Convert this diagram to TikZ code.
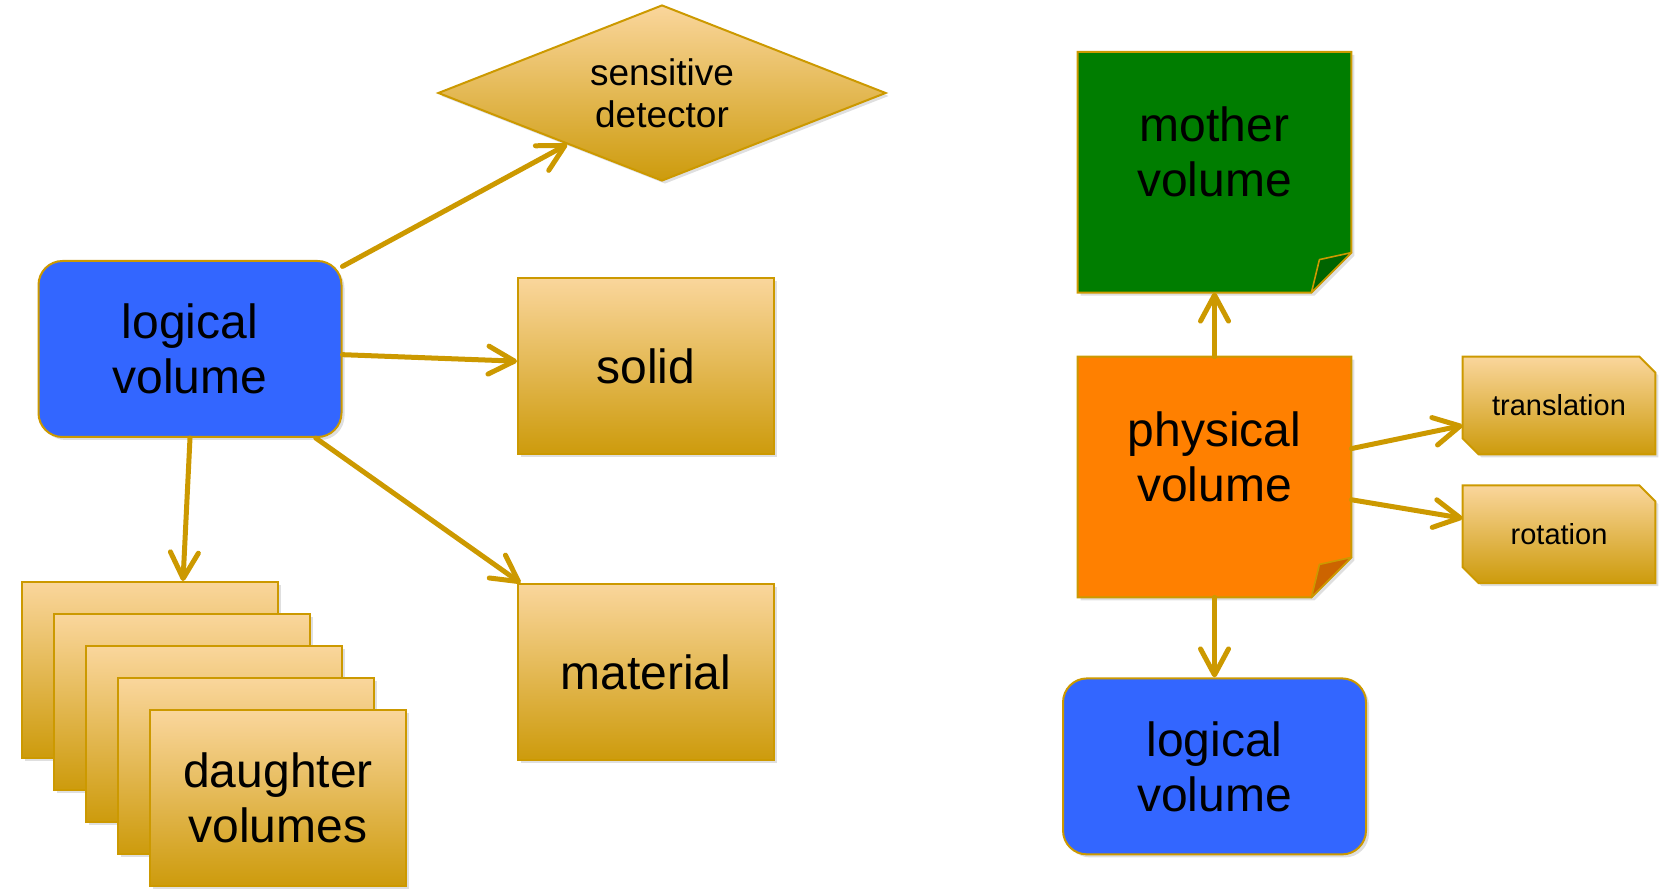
\documentclass[tikz,border=0pt]{standalone}
\usepackage{fontspec}
\setmainfont{Liberation Sans}
\usetikzlibrary{positioning,arrows.meta,shapes.geometric,shadows,calc,backgrounds}
\definecolor{GeoGold}{RGB}{204,153,0}
\definecolor{GeoGoldLight}{RGB}{250,214,156}
\definecolor{GeoGoldDark}{RGB}{205,155,12}
\definecolor{GeoBlue}{RGB}{51,102,255}
\definecolor{GeoGreen}{RGB}{0,125,0}
\definecolor{GeoGreenFold}{RGB}{0,100,0}
\definecolor{GeoOrange}{RGB}{255,128,0}
\definecolor{GeoOrangeFold}{RGB}{204,100,0}

\begin{document}
\begin{tikzpicture}[x=0.5pt,y=-0.5pt,
shadowed/.style={drop shadow={opacity=0.25,shadow xshift=1.5pt,shadow yshift=-1.5pt}},
gold/.style={draw=GeoGold,line width=1pt,top color=GeoGoldLight,bottom color=GeoGoldDark,shadowed},
bigtxt/.style={font=\fontsize{24}{27.5}\selectfont,align=center},
box/.style={rectangle,gold,bigtxt,minimum width=128pt,minimum height=88pt,inner sep=0pt},
lvbox/.style={rectangle,rounded corners=12pt,draw=GeoGold,line width=1pt,fill=GeoBlue,shadowed,bigtxt,
minimum width=151.5pt,minimum height=88pt},
sensor/.style={diamond,aspect=2.5,gold,font=\fontsize{18.5}{21}\selectfont,align=center,
minimum width=224pt,minimum height=88pt,inner sep=0pt},
note/.style={rectangle,minimum width=136.5pt,minimum height=120pt,inner sep=0pt},
tag/.style={rectangle,font=\fontsize{14.5}{17}\selectfont,minimum width=96pt,minimum height=48.5pt,inner sep=0pt},
noteshape/.style={draw=GeoGold,line width=1pt,shadowed},
fold/.style={draw=GeoGold,line width=0.8pt,line join=round},
arrow/.style={-{Straight Barb[length=13pt,width=14pt,round]},line width=2.5pt,draw=GeoGold,line cap=round}
]
\useasboundingbox (0,0) rectangle (1668,892);

% logical volume and what it holds
\node[lvbox] (lv) at (190,349) {logical\\volume};
\node[sensor] (sd) at (662,93) {sensitive\\detector};
\node[box] (solid) at (646,366) {solid};
\node[box,below=64pt of solid] (mat) {material};
\foreach \i in {0,...,3}
  \node[box] (d\i) at (150+32*\i,670+32*\i) {};
\node[box] (d4) at (278,798) {daughter\\volumes};

% physical volume
\node[note,label={[bigtxt,yshift=10pt]center:{physical\\volume}}] (pv) at (1214.5,477) {};
\node[note,above=32pt of pv,label={[bigtxt,yshift=10pt]center:{mother\\volume}}] (mv) {};
\node[lvbox,below=40pt of pv] (lv2) {logical\\volume};
\node[tag] (trans) at (1559,405.5) {translation};
\node[tag,below=15.5pt of trans] (rot) {rotation};

\begin{scope}[on background layer]
\foreach \n/\c in {mv/GeoGreen,pv/GeoOrange}
  \path[noteshape,fill=\c] (\n.north west) -- (\n.north east) -- ($(\n.south east)+(0,-40)$)
    -- ($(\n.south east)+(-40,0)$) -- (\n.south west) -- cycle;
\foreach \n in {trans,rot}
  \path[gold] (\n.north west) -- ($(\n.north east)+(-16,0)$) -- ($(\n.north east)+(0,16)$)
    -- (\n.south east) -- ($(\n.south west)+(16,0)$) -- ($(\n.south west)+(0,-16)$) -- cycle;
\end{scope}
\foreach \n/\c in {mv/GeoGreenFold,pv/GeoOrangeFold}
  \draw[fold,fill=\c] ($(\n.south east)+(-40,0)$) -- ($(\n.south east)+(-32,-33)$)
    -- ($(\n.south east)+(0,-40)$) -- cycle;

\draw[arrow] (lv) -- (sd);
\draw[arrow] (lv) -- (solid);
\draw[arrow] (lv) -- (mat);
\draw[arrow] (lv.south) -- ($(d0.north)+(33,0)$);
\draw[arrow] (pv) -- (mv);
\draw[arrow] (pv) -- (lv2);
\draw[arrow] (pv) -- (trans);
\draw[arrow] (pv) -- (rot);
\end{tikzpicture}
\end{document}
